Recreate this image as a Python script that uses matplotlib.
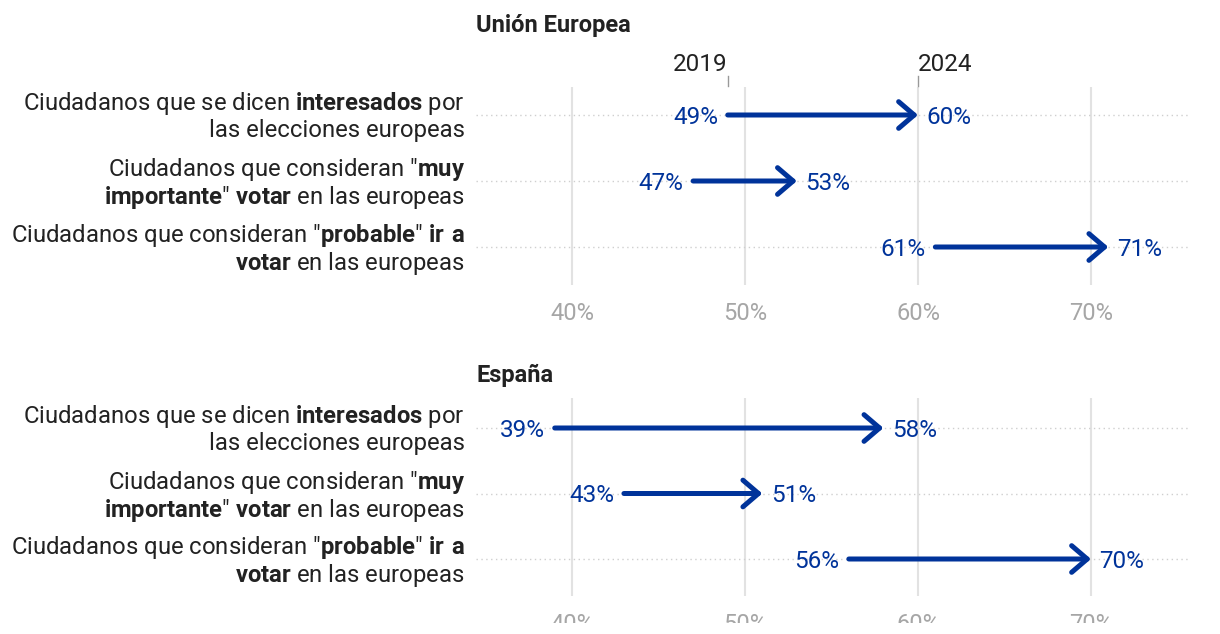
import matplotlib
matplotlib.use("Agg")
import matplotlib.pyplot as plt
from matplotlib.patches import Rectangle

W, H = 1220, 634
plt.rcParams['font.family'] = ['Roboto', 'DejaVu Sans']
plt.rcParams['mathtext.fontset'] = 'custom'
plt.rcParams['mathtext.rm'] = 'Roboto'
plt.rcParams['mathtext.bf'] = 'Roboto:bold'

# data
panels = ["Unión Europea", "España"]
row_labels = [
    r"Ciudadanos que se dicen $\mathbf{interesados}$ por" "\n" r"las elecciones europeas",
    r'Ciudadanos que consideran "$\mathbf{muy}$' "\n" r'$\mathbf{importante}$" $\mathbf{votar}$ en las europeas',
    r'Ciudadanos que consideran "$\mathbf{probable}$" $\mathbf{ir\ a}$' "\n" r'$\mathbf{votar}$ en las europeas',
]
eu_2019 = [49, 47, 61]
eu_2024 = [60, 53, 71]
es_2019 = [39, 43, 56]
es_2024 = [58, 51, 70]
years = ["2019", "2024"]
ticks = [40, 50, 60, 70]

BLUE = "#00339a"
TXT = "#222222"
GREY = "#a6a6a6"
FS = 17
LFS = 17.2
VFS = 17.5

# layout in image pixels: (title baseline, axes top, axes bottom, first row, row step)
layout = [(32, 87, 285, 115, 66), (382, 398, 596, 428, 65.5)]
X0, X1 = 476, 1190
XLIM = (34.45, 75.72)

fig = plt.figure(figsize=(W / 100, H / 100), dpi=100)

series = [(eu_2019, eu_2024), (es_2019, es_2024)]

for p, (title, (start, end), (tb, top, bot, r0, step)) in enumerate(zip(panels, series, layout)):
    ax = fig.add_axes([X0 / W, (H - bot) / H, (X1 - X0) / W, (bot - top) / H])
    ylo = 2 + (bot - (r0 + 2 * step)) / step
    yhi = -(r0 - top) / step
    ax.set_ylim(ylo, yhi)
    ax.set_xlim(*XLIM)
    for sp in ax.spines.values():
        sp.set_visible(False)
    ax.set_yticks([])
    ax.set_xticks(ticks)
    ax.set_xticklabels([f"{t}%" for t in ticks])
    ax.tick_params(axis='x', length=0, pad=12, labelsize=FS, labelcolor=GREY)
    ax.grid(axis='x', color='#e2e2e2', lw=1.5)
    ax.set_axisbelow(True)

    for i, (s, e) in enumerate(zip(start, end)):
        ax.axhline(i, color='#cfcfcf', ls=(0, (1, 2.5)), lw=1, zorder=1)
        ax.annotate('', xy=(e, i), xytext=(s, i),
                    arrowprops=dict(arrowstyle='->,head_length=0.56,head_width=0.48',
                                    color=BLUE, lw=3.6, shrinkA=0, shrinkB=0,
                                    capstyle='round', mutation_scale=20),
                    zorder=3)
        ax.annotate(f"{s}%", xy=(s, i), xytext=(-7, 0), textcoords='offset points',
                    ha='right', va='center_baseline', color=BLUE, fontsize=VFS)
        ax.annotate(f"{e}%", xy=(e, i), xytext=(6, 0), textcoords='offset points',
                    ha='left', va='center_baseline', color=BLUE, fontsize=VFS)

        # category label, right aligned to the left of the axes
        for k, line in enumerate(row_labels[i].split("\n")):
            ax.annotate(line, xy=(0, i), xycoords=('axes fraction', 'data'),
                        xytext=(-8, 10.5 if k == 0 else -9.5), textcoords='offset points',
                        ha='right', va='center_baseline', fontsize=LFS, color=TXT,
                        annotation_clip=False)

    fig.text(X0 / W, (H - tb) / H, title, fontsize=FS, fontweight='bold',
             color=TXT, ha='left', va='baseline')

    if p == 0:
        tr = ax.get_xaxis_transform()
        hgt = bot - top
        for yr, xv, ha in zip(years, (start[0], end[0]), ('right', 'left')):
            ax.plot([xv, xv], [(bot - 76) / hgt, (bot - 86) / hgt], transform=tr,
                    color='#999999', lw=1, clip_on=False)
            ax.text(xv, (bot - 71) / hgt, yr, transform=tr, ha=ha, va='baseline',
                    fontsize=VFS, color=TXT)

# the source chart is cut off just under the last tick labels
fig.patches.append(Rectangle((0, 0), 1, 11 / H, transform=fig.transFigure,
                             facecolor='white', edgecolor='none', zorder=10))

fig.savefig("out.png", dpi=100)
